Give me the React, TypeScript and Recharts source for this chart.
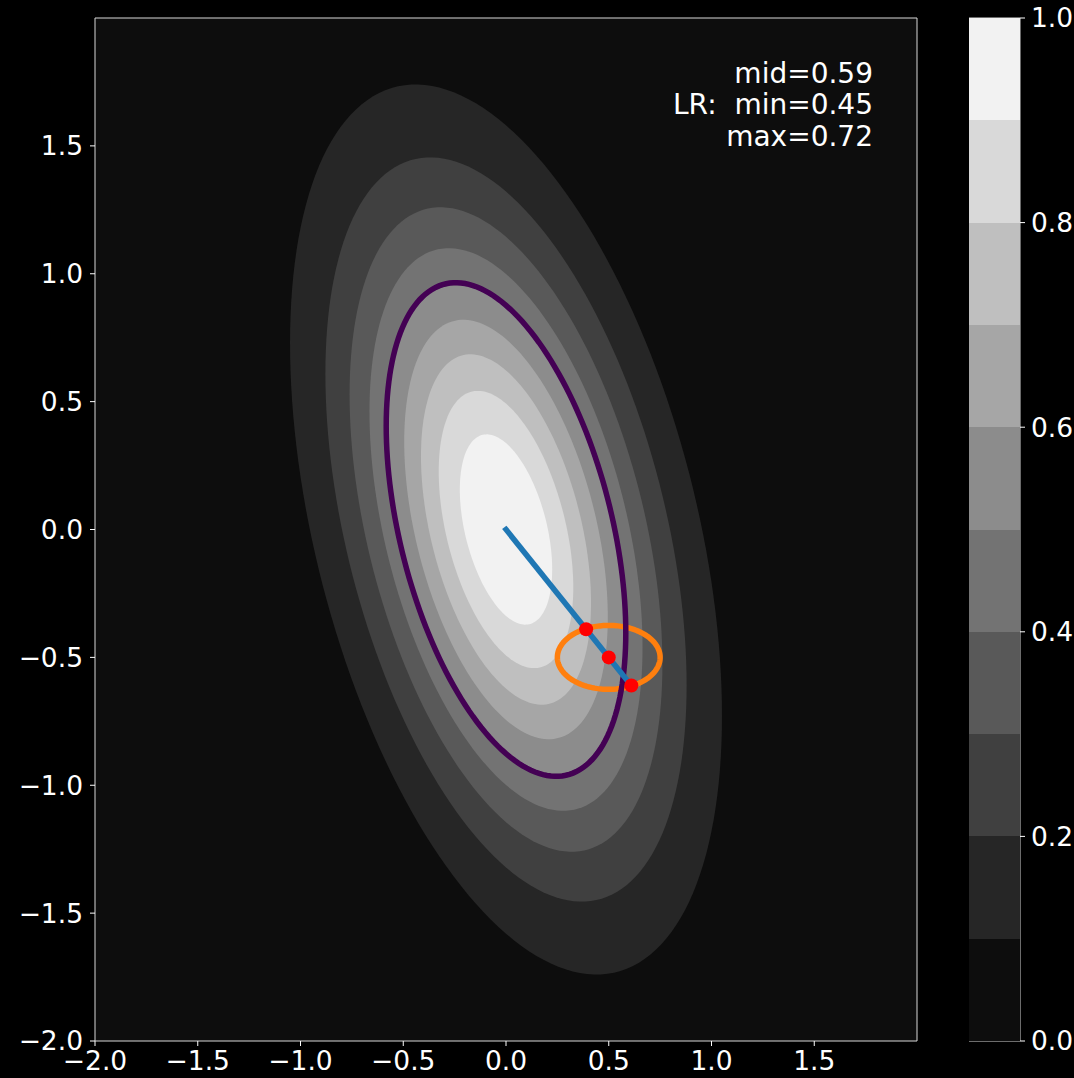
import {
  ScatterChart,
  Scatter,
  XAxis,
  YAxis,
  CartesianGrid,
  ReferenceArea,
  BarChart,
  Bar,
} from 'recharts';

const FONT = '"DejaVu Sans", "Liberation Sans", sans-serif';

// filled contour levels of the density and the half-height (max y) each one reaches
const LEVELS = [0.1, 0.2, 0.3, 0.4, 0.5, 0.6, 0.7, 0.8, 0.9];
const LEVEL_HALF_HEIGHT = [1.74, 1.455, 1.26, 1.1, 0.955, 0.82, 0.685, 0.542, 0.372];
// gray colour of each band, 0-0.1 up to 0.9-1.0
const BAND_FILLS = ['#0d0d0d', '#262626', '#404040', '#595959', '#737373', '#8c8c8c', '#a6a6a6', '#bfbfbf', '#d9d9d9', '#f2f2f2'];
const COLORBAR_BOUNDS = [0, 0.1, 0.2, 0.3, 0.4, 0.5, 0.6, 0.7, 0.8, 0.9, 1.0];

// shape of the outermost contour (data units)
const OUTER_HALF_WIDTH = 1.051;
const OUTER_HALF_HEIGHT = 1.74;
const OUTER_X_AT_TOP = -0.44;

// purple contour line
const MID_CONTOUR_HALF_HEIGHT = 0.965;

// blue segment from the origin
const PATH_X = [0, 0.612];
const PATH_Y = [0, -0.612];

// red points
const DOT_X = [0.39, 0.5, 0.61];
const DOT_Y = [-0.39, -0.5, -0.61];

// orange ellipse
const RING_CENTER = [0.5, -0.5];
const RING_RADII = [0.25, 0.125];

const X_TICKS = [-2, -1.5, -1, -0.5, 0, 0.5, 1, 1.5];
const Y_TICKS = [-2, -1.5, -1, -0.5, 0, 0.5, 1, 1.5];
const CB_TICKS = [0, 0.2, 0.4, 0.6, 0.8, 1.0];

const NOTE_LINES = ['mid=0.59', 'LR:  min=0.45', 'max=0.72'];

const STEPS = 180;

// trace a contour of the same shape as the outer one, scaled to half-height h
function contour(h: number) {
  const k = h / OUTER_HALF_HEIGHT;
  const a = OUTER_HALF_WIDTH;
  const b = (OUTER_X_AT_TOP * OUTER_HALF_HEIGHT) / OUTER_HALF_WIDTH;
  const c = Math.sqrt(OUTER_HALF_HEIGHT * OUTER_HALF_HEIGHT - b * b);
  const pts: { x: number; y: number }[] = [];
  for (let i = 0; i < STEPS; i++) {
    const t = (2 * Math.PI * i) / STEPS;
    pts.push({ x: k * a * Math.cos(t), y: k * (b * Math.cos(t) + c * Math.sin(t)) });
  }
  return pts;
}

function ring() {
  const pts: { x: number; y: number }[] = [];
  for (let i = 0; i < STEPS; i++) {
    const t = (2 * Math.PI * i) / STEPS;
    pts.push({ x: RING_CENTER[0] + RING_RADII[0] * Math.cos(t), y: RING_CENTER[1] + RING_RADII[1] * Math.sin(t) });
  }
  return pts;
}

const fmt = (v: number) => Number(v).toFixed(1).replace('-', '\u2212');

const Hidden = () => <g />;

const tickStyle = { fill: '#ffffff', fontSize: 26.5, fontFamily: FONT };

export default function App() {
  const pathData = PATH_X.map((x, i) => ({ x, y: PATH_Y[i] }));
  const dotData = DOT_X.map((x, i) => ({ x, y: DOT_Y[i] }));
  const cbRow: Record<string, number> = {};
  COLORBAR_BOUNDS.slice(1).forEach((b, i) => {
    cbRow[`b${i}`] = b - COLORBAR_BOUNDS[i];
  });

  return (
    <div
      style={{
        position: 'absolute',
        left: 0,
        top: 0,
        width: 1074,
        height: 1078,
        background: '#000000',
        overflow: 'hidden',
        fontFamily: FONT,
      }}
    >
      <ScatterChart width={1074} height={1078} margin={{ top: 18, right: 157, bottom: 0, left: 0 }}>
        <CartesianGrid horizontal={false} vertical={false} fill={BAND_FILLS[0]} />
        <XAxis
          type="number"
          dataKey="x"
          domain={[-2, 2]}
          ticks={X_TICKS}
          interval={0}
          height={37}
          axisLine={false}
          tickLine={{ stroke: '#ffffff' }}
          tickSize={5}
          tickMargin={5}
          tick={tickStyle}
          tickFormatter={fmt}
        />
        <YAxis
          type="number"
          dataKey="y"
          domain={[-2, 2]}
          ticks={Y_TICKS}
          interval={0}
          width={95}
          axisLine={false}
          tickLine={{ stroke: '#ffffff' }}
          tickSize={5}
          tickMargin={7}
          tick={tickStyle}
          tickFormatter={fmt}
        />
        {LEVELS.map((lvl, i) => (
          <Scatter
            key={lvl}
            data={contour(LEVEL_HALF_HEIGHT[i])}
            fill={BAND_FILLS[i + 1]}
            line={{ fill: BAND_FILLS[i + 1], stroke: 'none' }}
            lineJointType="linearClosed"
            shape={Hidden}
            isAnimationActive={false}
          />
        ))}
        <Scatter
          data={ring()}
          fill="#ff7f0e"
          line={{ fill: 'none', stroke: '#ff7f0e', strokeWidth: 5.5 }}
          lineJointType="linearClosed"
          shape={Hidden}
          isAnimationActive={false}
        />
        <Scatter
          data={contour(MID_CONTOUR_HALF_HEIGHT)}
          fill="#440154"
          line={{ fill: 'none', stroke: '#440154', strokeWidth: 5.5 }}
          lineJointType="linearClosed"
          shape={Hidden}
          isAnimationActive={false}
        />
        <Scatter
          data={pathData}
          fill="#1f77b4"
          line={{ fill: 'none', stroke: '#1f77b4', strokeWidth: 5.5, strokeLinecap: 'square' }}
          lineJointType="linear"
          shape={Hidden}
          isAnimationActive={false}
        />
        <Scatter
          data={dotData}
          fill="#ff0000"
          shape={(p: any) => <circle cx={p.cx} cy={p.cy} r={7} fill="#ff0000" />}
          isAnimationActive={false}
        />
        <ReferenceArea x1={-2} x2={2} y1={-2} y2={2} fill="none" stroke="#d8d8d8" strokeWidth={1} />
      </ScatterChart>

      <div
        style={{
          position: 'absolute',
          right: 201,
          top: 58,
          textAlign: 'right',
          color: '#ffffff',
          fontSize: 28,
          lineHeight: '31.3px',
          whiteSpace: 'pre',
          fontFamily: FONT,
        }}
      >
        {NOTE_LINES.map((l) => (
          <div key={l}>{l}</div>
        ))}
      </div>

      <div style={{ position: 'absolute', left: 969, top: 0 }}>
        <BarChart
          width={105}
          height={1078}
          data={[cbRow]}
          margin={{ top: 18, right: 0, bottom: 37, left: 0 }}
          barCategoryGap={0}
          barGap={0}
        >
          <XAxis hide />
          <YAxis
            orientation="right"
            type="number"
            domain={[0, 1]}
            ticks={CB_TICKS}
            interval={0}
            width={54}
            axisLine={false}
            tickLine={{ stroke: '#ffffff' }}
            tickSize={5}
            tickMargin={6}
            tick={tickStyle}
            tickFormatter={(v: number) => Number(v).toFixed(1)}
          />
          {COLORBAR_BOUNDS.slice(1).map((b, i) => (
            <Bar
              key={b}
              dataKey={`b${i}`}
              stackId="cb"
              fill={BAND_FILLS[i]}
              shapeRendering="crispEdges"
              isAnimationActive={false}
            />
          ))}
          <ReferenceArea y1={0} y2={1} fill="none" stroke="#d8d8d8" strokeWidth={1} />
        </BarChart>
      </div>
    </div>
  );
}
